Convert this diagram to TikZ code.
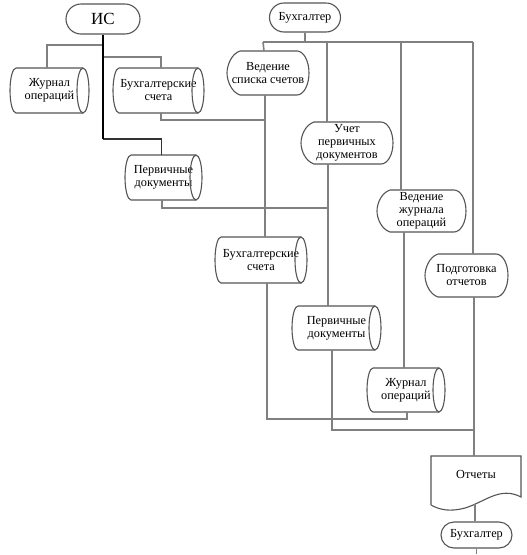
\documentclass[tikz,border=0pt]{standalone}
\usepackage{fontspec}
\setmainfont{Liberation Serif}
\newfontfamily\diagfont{Liberation Serif}
\usetikzlibrary{calc}
\definecolor{conncol}{RGB}{128,128,128}
\definecolor{outcol}{RGB}{85,85,85}
\tikzset{
  txt/.style={draw=none,inner sep=0pt,align=center,font=\diagfont\fontsize{12.3}{13}\selectfont},
  outl/.style={draw=outcol,line width=1.1pt},
  conn/.style={draw=conncol,line width=1.6pt},
  blk/.style={draw=black,line width=2.4pt},
  blkthin/.style={draw=black!80,line width=1.6pt},
  term/.style={txt,draw=outcol,line width=1.1pt},
}
\newcommand\cylnode[6]{%
  \pgfmathsetmacro\cxa{#2-#4/2}\pgfmathsetmacro\cxb{#2+#4/2}%
  \pgfmathsetmacro\cya{#3-#5/2}\pgfmathsetmacro\cyb{#3+#5/2}%
  \pgfmathsetmacro\cry{#5/2}\pgfmathsetmacro\ckr{0.5523*#5/2}%
  \node[txt,minimum width=#4,minimum height=#5] (#1) at (#2,#3) {#6};
  \draw[outl] (\cxa+6,\cya) -- (\cxb-6,\cya) (\cxb-6,\cyb) -- (\cxa+6,\cyb)
     .. controls (\cxa+2.7,\cyb) and (\cxa,#3+\ckr) .. (\cxa,#3)
     .. controls (\cxa,#3-\ckr) and (\cxa+2.7,\cya) .. (\cxa+6,\cya);
  \draw[outl] (\cxb-6,#3) ellipse [x radius=6, y radius=\cry];
}
\newcommand\dispnode[6]{%
  \pgfmathsetmacro\cxa{#2-#4/2}\pgfmathsetmacro\cxb{#2+#4/2}%
  \pgfmathsetmacro\cya{#3-#5/2}\pgfmathsetmacro\cyb{#3+#5/2}%
  \pgfmathsetmacro\ckr{0.5523*#5/2}%
  \node[txt,minimum width=#4,minimum height=#5] (#1) at (#2,#3) {#6};
  \draw[outl] (\cxa+13,\cya) -- (\cxb-12,\cya)
     .. controls (\cxb-5.4,\cya) and (\cxb,#3-\ckr) .. (\cxb,#3)
     .. controls (\cxb,#3+\ckr) and (\cxb-5.4,\cyb) .. (\cxb-12,\cyb)
     -- (\cxa+13,\cyb)
     .. controls (\cxa+4,\cyb-3) and (\cxa,#3+7) .. (\cxa,#3)
     .. controls (\cxa,#3-7) and (\cxa+4,\cya+3) .. (\cxa+13,\cya) -- cycle;
}
\begin{document}
\begin{tikzpicture}[x=1pt,y=-1pt]
\fill[white] (0,0) rectangle (527,555);
\useasboundingbox (0,0) rectangle (527,555);

% terminators
\node[term,minimum width=74,minimum height=30,rounded corners=15,font=\diagfont\fontsize{17}{19}\selectfont] (is) at (103,19) {ИС};
\node[term,minimum width=71,minimum height=29,rounded corners=14.5] (buhT) at (305,17.5) {Бухгалтер};
\node[term,minimum width=71,minimum height=26,rounded corners=13] (buhB) at (476.5,535) {Бухгалтер};

% stores, left group
\cylnode{zhurL}{49.5}{90.5}{79}{45}{Журнал\\операций}
\cylnode{buhL}{158.5}{90.5}{91}{45}{Бухгалтерские\\счета}
\cylnode{pervL}{163.5}{177.5}{77}{45}{Первичные\\документы}

% processes
\dispnode{vedS}{268}{73}{82}{44}{Ведение\\списка счетов}
\dispnode{uchet}{347}{143}{92}{42}{Учет\\первичных\\документов}
\dispnode{vedZ}{421.5}{211}{89}{42}{Ведение\\журнала\\операций}
\dispnode{podg}{466.5}{275.5}{83}{43}{Подготовка\\отчетов}

% stores, right group
\cylnode{buhM}{261}{260}{92}{46}{Бухгалтерские\\счета}
\cylnode{pervM}{336.5}{328}{89}{44}{Первичные\\документы}
\cylnode{zhurR}{406}{390}{78}{44}{Журнал\\операций}

% document
\node[txt,minimum width=90,minimum height=36] (otch) at (476,474) {Отчеты};
\draw[outl] (431,505) -- (431,456) -- (521,456) -- (521,497)
   .. controls (500,486) and (485,502) .. (465,508)
   .. controls (450,512) and (440,510) .. (431,505);

% attach points
\coordinate (zhurLT) at ([xshift=-2.5]zhurL.north);
\coordinate (buhLT) at ([xshift=2.5]buhL.north);
\coordinate (buhLB) at ([xshift=2.5]buhL.south);
\coordinate (pervLT) at ([xshift=-2]pervL.north);
\coordinate (pervLB) at ([xshift=-1.5]pervL.south);
\coordinate (vedST) at ([xshift=-4]vedS.north);
\coordinate (vedSB) at ([xshift=-3]vedS.south);
\coordinate (uchetT) at ([xshift=-20]uchet.north);
\coordinate (uchetB) at ([xshift=-19]uchet.south);
\coordinate (vedZT) at ([xshift=-20.5]vedZ.north);
\coordinate (vedZB) at ([xshift=-17.5]vedZ.south);
\coordinate (podgT) at ([xshift=6.5]podg.north);
\coordinate (podgB) at ([xshift=7.5]podg.south);
\coordinate (buhMT) at ([xshift=4]buhM.north);
\coordinate (buhMB) at ([xshift=6]buhM.south);
\coordinate (pervMT) at ([xshift=-8.5]pervM.north);
\coordinate (pervMB) at ([xshift=-4.5]pervM.south);
\coordinate (zhurRT) at ([xshift=-2]zhurR.north);
\coordinate (zhurRB) at ([xshift=1]zhurR.south);
\coordinate (otchT) at ([xshift=-2]otch.north);
\coordinate (otchB) at (475,504);

% junctions
\coordinate (jb) at (103,139);
\coordinate (b1) at (103,45);
\coordinate (b2) at (103,57);
\coordinate (busL) at (263,42);
\coordinate (busR) at (473,42);
\coordinate (J1) at (264,120);
\coordinate (J2) at (328,208);
\coordinate (J3) at (267,419);
\coordinate (J4) at (474,430);

% ИС connectors
\draw[conn] (b1) -| (zhurLT);
\draw[conn] (b2) -| (buhLT);
\draw[blkthin] (jb) -| (pervLT);
\draw[blk] (is.south) -- (jb);

% Бухгалтер bus
\draw[conn] (buhT.south) -- (buhT.south |- busL);
\draw[conn] (busL) -- (busR);
\draw[conn] (busL) -- (vedST);
\draw[conn] (uchetT |- busL) -- (uchetT);
\draw[conn] (vedZT |- busL) -- (vedZT);
\draw[conn] (busR) -- (podgT);

% process to store
\draw[conn] (vedSB) -- (vedSB |- buhMT);
\draw[conn] (uchetB) -- (uchetB |- pervMT);
\draw[conn] (vedZB) -- (zhurRT);
\draw[conn] (podgB) -- (otchT);

% left stores to processes
\draw[conn] (buhLB) |- (J1);
\draw[conn] (pervLB) |- (J2);

% right stores
\draw[conn] (buhMB) |- (J3) -| (zhurRB);
\draw[conn] (pervMB) |- (J4);

% reports to accountant
\draw[conn] (otchB) -- (otchB |- buhB.north);
\draw[conn] (buhB.south) -- ++(0,5);
\end{tikzpicture}
\end{document}
